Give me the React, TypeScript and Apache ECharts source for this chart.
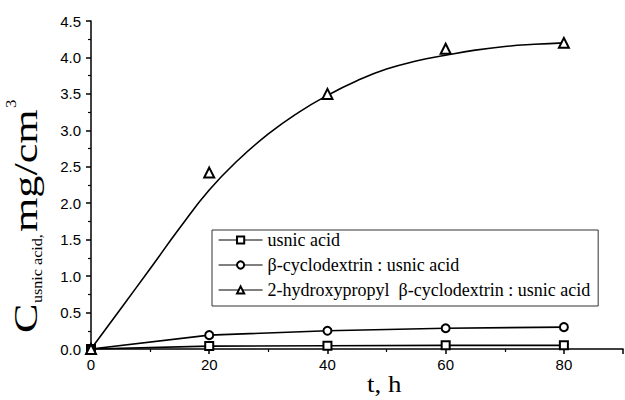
import React, { useEffect, useRef } from "react";
import * as echarts from "echarts";

const tHours = [0, 20, 40, 60, 80];
const usnicAcid = [0, 0.04, 0.045, 0.05, 0.05];
const betaCD = [0, 0.19, 0.25, 0.285, 0.3];
const hpBetaCD = [0, 2.42, 3.5, 4.12, 4.2];
const fitT = [0, 5, 10, 15, 20, 25, 30, 35, 40, 45, 50, 55, 60, 65, 70, 75, 80];
const fitC = [0, 0.55, 1.1, 1.66, 2.18, 2.6, 2.95, 3.24, 3.48, 3.68, 3.84, 3.95, 4.03, 4.1, 4.15, 4.18, 4.2];
const seriesNames = [
  "usnic acid",
  "β-cyclodextrin : usnic acid",
  "2-hydroxypropyl  β-cyclodextrin : usnic acid",
];

const SERIF = "'Liberation Serif', 'Times New Roman', serif";
const SANS = "'Liberation Sans', Arial, sans-serif";

export default function App() {
  const ref = useRef<HTMLDivElement>(null);
  useEffect(() => {
    if (!ref.current) return;
    const chart = echarts.init(ref.current, undefined, { renderer: "svg" });
    const pair = (xs: number[], ys: number[]) => xs.map((x, i) => [x, ys[i]]);
    const txt = (text: string, x: number, y: number, size: number, sx: number) => ({
      type: "text",
      x,
      y,
      scaleX: sx,
      style: { text, fontFamily: SERIF, fontSize: size, fill: "#000", verticalAlign: "middle", align: "left" },
    });
    chart.setOption({
      animation: false,
      backgroundColor: "#fff",
      grid: { left: 91, right: 2, top: 21, bottom: 51, containLabel: false },
      xAxis: {
        type: "value",
        min: 0,
        max: 90,
        interval: 20,
        axisLine: { show: true, lineStyle: { color: "#000", width: 1.5 } },
        axisTick: { show: true, inside: false, length: 5, lineStyle: { color: "#000", width: 1.5 } },
        minorTick: { show: true, splitNumber: 2, length: 3, lineStyle: { color: "#000", width: 1.2 } },
        splitLine: { show: false },
        axisLabel: {
          color: "#000",
          fontFamily: SANS,
          fontSize: 15,
          margin: 8,
          showMaxLabel: false,
        },
      },
      yAxis: {
        type: "value",
        min: 0,
        max: 4.5,
        interval: 0.5,
        axisLine: { show: true, lineStyle: { color: "#000", width: 1.5 } },
        axisTick: { show: true, inside: false, length: 5, lineStyle: { color: "#000", width: 1.5 } },
        minorTick: { show: true, splitNumber: 2, length: 3, lineStyle: { color: "#000", width: 1.2 } },
        splitLine: { show: false },
        axisLabel: {
          color: "#000",
          fontFamily: SANS,
          fontSize: 15,
          margin: 10,
          formatter: (v: number) => v.toFixed(1),
        },
      },
      legend: {
        orient: "vertical",
        left: 212,
        top: 230,
        padding: [1, 8, 7, 6],
        itemGap: 7,
        itemWidth: 44,
        itemHeight: 9,
        backgroundColor: "#fff",
        borderColor: "#333",
        borderWidth: 1,
        borderRadius: 0,
        textStyle: { color: "#000", fontFamily: SERIF, fontSize: 18 },
        data: [
          { name: seriesNames[0], lineStyle: { width: 1.2 } },
          { name: seriesNames[1], lineStyle: { width: 1.2 } },
          { name: seriesNames[2], lineStyle: { width: 1.2, color: "#000", opacity: 1 } },
        ],
      },
      series: [
        {
          name: "fit",
          type: "line",
          data: pair(fitT, fitC),
          smooth: true,
          showSymbol: false,
          symbol: "none",
          lineStyle: { color: "#000", width: 1.6 },
          color: "#000",
          z: 2,
        },
        {
          name: seriesNames[0],
          type: "line",
          data: pair(tHours, usnicAcid),
          symbol: "emptyRect",
          symbolSize: 8,
          color: "#000",
          lineStyle: { color: "#000", width: 1.6 },
          itemStyle: { color: "#000", borderColor: "#000", borderWidth: 1.5 },
          z: 3,
        },
        {
          name: seriesNames[1],
          type: "line",
          data: pair(tHours, betaCD),
          symbol: "emptyCircle",
          symbolSize: 8,
          color: "#000",
          lineStyle: { color: "#000", width: 1.6 },
          itemStyle: { color: "#000", borderColor: "#000", borderWidth: 1.5 },
          z: 3,
        },
        {
          name: seriesNames[2],
          type: "line",
          data: pair(tHours, hpBetaCD),
          symbol: "emptyTriangle",
          symbolSize: 10,
          color: "#000",
          lineStyle: { width: 0, opacity: 0 },
          itemStyle: { color: "#000", borderColor: "#000", borderWidth: 1.5 },
          z: 4,
        },
      ],
      graphic: [
        {
          type: "group",
          x: 37,
          y: 333,
          rotation: Math.PI / 2,
          children: [
            txt("C", 0, -0.34 * 34, 34, 1.3),
            txt("usnic acid,", 30, 5 - 0.34 * 14, 14, 1.15),
            txt("mg/cm", 101, -0.34 * 34, 34, 1.3),
            txt("3", 225, -21 - 0.34 * 14, 14, 1.2),
          ],
        },
        txt("t, h", 367, 392 - 0.34 * 24, 24, 1.12),
      ],
    });
    return () => chart.dispose();
  }, []);
  return <div ref={ref} style={{ position: "absolute", left: 0, top: 0, width: 625, height: 400 }} />;
}
